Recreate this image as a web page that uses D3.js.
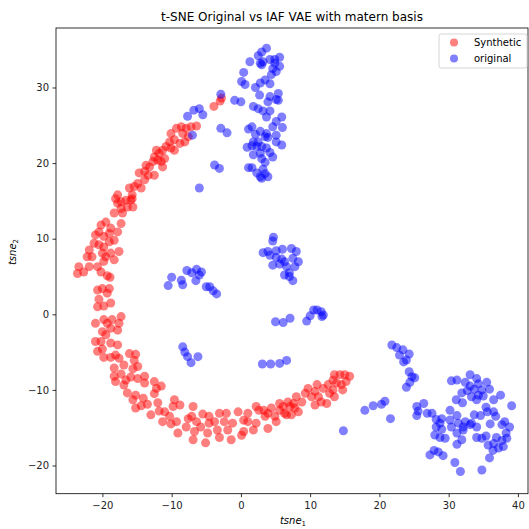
<!DOCTYPE html>
<meta charset="utf-8">
<title>t-SNE Original vs IAF VAE with matern basis</title>
<style>
  body { margin: 0; background: white; }
  svg { font-family: 'DejaVu Sans', sans-serif; }
  .tick line { stroke: black; stroke-width: 0.8px; }
  .tick text { fill: #222; }
</style>
<body>
<script src="https://cdn.jsdelivr.net/npm/d3@7"></script>
<script>

// tsne coords
var synthetic = [
  [-2.8,28.6],[-3.0,28.2],[-3.9,27.5],
  [-10.1,23.9],[-9.3,24.6],[-8.6,24.8],[-7.9,24.6],[-7.2,24.8],[-6.4,24.9],[-8.4,23.9],[-7.6,23.5],
  [-9.6,23.1],[-8.8,22.6],[-8.1,22.8],[-10.3,22.8],[-10.8,22.2],[-10.1,22.0],[-9.6,21.7],[-11.3,21.7],
  [-11.8,21.3],[-12.2,21.7],[-12.5,20.8],[-12.0,20.4],[-11.0,20.6],[-11.5,20.2],[-11.3,19.5],[-12.7,20.2],
  [-13.2,19.5],[-13.7,19.7],[-13.9,18.9],[-14.7,18.7],[-13.4,18.4],[-12.5,18.4],[-13.9,17.8],[-14.9,17.3],
  [-15.4,16.9],[-16.1,16.7],[-14.4,16.7],[-15.7,15.8],[-15.9,15.1],[-15.7,15.3],[-16.6,15.1],[-17.3,14.9],
  [-17.8,15.8],[-18.1,15.3],[-17.8,14.7],[-17.3,14.0],[-18.3,13.4],[-17.1,13.4],[-16.4,14.2],[-15.6,14.2],
  [-17.3,12.0],[-18.8,11.4],[-19.5,12.2],[-20.2,11.8],[-20.5,10.9],[-21.0,10.5],[-19.8,10.3],[-19.0,10.7],
  [-17.8,10.9],[-18.3,9.8],[-19.0,9.6],[-19.8,8.9],[-20.5,9.2],[-21.2,9.4],[-21.9,8.5],[-21.5,7.6],
  [-22.2,7.6],[-20.0,8.1],[-19.5,7.6],[-18.8,8.1],[-17.6,8.3],[-18.3,7.2],[-19.8,7.0],[-20.7,6.3],
  [-21.9,6.3],[-23.4,6.3],[-23.6,5.4],[-22.7,5.6],[-20.2,5.6],[-19.3,5.1],[-18.9,4.9],
  [-20.7,3.2],[-20.0,3.4],[-19.0,3.4],[-19.3,2.8],[-20.5,2.0],[-20.7,1.0],[-19.8,1.1],[-18.8,1.5],
  [-21.0,-1.2],[-19.8,-0.7],[-19.3,-1.2],[-18.6,-0.7],[-17.3,-0.3],[-17.6,-1.2],[-18.8,-1.85],[-17.8,-2.1],
  [-20.0,-2.3],[-19.5,-2.7],[-21.0,-3.6],[-20.2,-3.6],[-18.8,-3.8],[-17.8,-4.05],[-20.7,-4.9],[-20.0,-4.6],
  [-19.8,-5.7],[-18.8,-5.7],[-18.1,-5.4],[-17.6,-5.8],[-16.1,-5.2],[-15.2,-5.3],[-15.4,-6.1],[-14.9,-6.9],
  [-15.6,-7.2],[-16.9,-6.7],[-18.3,-7.1],[-18.3,-8.2],[-17.3,-7.9],[-18.1,-8.9],[-16.6,-8.7],[-16.9,-9.35],
  [-15.9,-8.3],[-14.9,-8.5],[-13.9,-8.2],[-13.9,-9.1],[-16.4,-10.4],[-15.2,-10.7],[-14.1,-11.1],[-15.6,-11.3],
  [-15.2,-12.4],[-14.4,-12.1],[-13.5,-11.9],[-12.5,-8.9],[-11.5,-9.5],[-12.2,-9.8],[-12.5,-10.5],[-12.0,-11.7],
  [-13.0,-13.3],[-11.8,-12.8],[-11.0,-12.9],[-11.3,-14.2],[-10.3,-13.5],[-9.6,-11.3],[-9.8,-12.2],[-8.8,-12.0],
  [-10.1,-14.5],[-9.1,-15.7],[-9.3,-14.2],[-7.6,-13.8],[-7.9,-14.9],[-6.9,-12.2],[-7.1,-13.5],[-6.4,-14.2],
  [-6.7,-15.5],[-6.9,-16.6],[-5.5,-13.2],[-5.8,-14.9],[-4.8,-15.7],[-5.1,-17.0],[-4.6,-14.4],[-4.6,-13.5],
  [-3.8,-14.2],[-3.1,-13.1],[-3.4,-15.3],[-2.1,-13.1],[-2.4,-14.2],[-1.9,-15.3],[-3.1,-16.3],[-1.4,-16.6],
  [-1.2,-14.4],
  [-0.4,-12.9],[1.0,-13.1],[0.4,-14.0],[1.0,-14.2],[2.2,-14.4],[1.8,-15.3],[0.4,-15.5],[0.1,-16.0],
  [2.2,-12.2],[2.6,-12.7],[3.3,-12.7],[3.9,-13.1],[3.5,-13.5],[3.9,-15.1],[4.4,-12.4],[4.9,-13.5],
  [5.1,-14.2],[5.6,-11.8],[5.6,-12.7],[6.1,-12.2],[6.3,-13.1],[6.6,-13.3],[7.3,-13.3],[6.8,-11.6],
  [7.1,-12.2],[7.6,-11.8],[7.8,-12.4],[8.3,-12.9],[8.0,-10.9],[8.8,-11.6],[9.3,-10.45],[9.7,-9.8],
  [10.2,-10.9],[10.7,-12.0],[11.0,-9.3],[10.7,-10.2],[11.2,-10.9],[11.6,-11.6],[11.9,-9.8],[12.4,-11.8],
  [12.6,-9.3],[12.8,-10.45],[13.3,-10.0],[13.5,-10.9],[13.3,-8.7],[13.8,-9.1],[14.3,-8.0],[15.0,-8.0],
  [15.7,-8.2],[15.2,-8.9],[14.5,-9.3],[14.7,-10.0],[13.5,-8.0]
];

var original = [
  // top cluster
  [3.7,35.2],[3.0,34.7],[2.5,34.2],[3.2,33.4],[2.8,33.2],[4.2,33.7],[4.9,33.7],[5.6,34.0],
  [4.9,33.2],[5.6,32.8],[4.6,32.5],[3.0,33.0],[1.3,33.4],[5.1,32.1],[4.4,31.7],[0.4,32.0],
  [0.1,30.8],[0.6,30.4],[2.1,30.0],[2.8,30.6],[3.5,31.0],[4.2,30.5],[2.7,29.0],[5.4,29.2],
  [4.2,28.8],[5.1,28.4],[3.9,28.1],[5.4,28.3],[-0.9,28.3],[0.0,28.1],[-2.9,29.1],[1.8,27.5],
  [2.5,27.2],[3.2,26.9],[4.2,26.9],[3.7,26.1],[5.1,25.5],[5.9,26.1],[4.6,24.8],[6.0,24.7],
  [1.1,24.5],[1.6,24.8],[2.1,23.8],[2.8,24.2],[3.7,23.9],[3.5,23.5],[3.9,23.4],[5.1,23.7],
  [5.1,22.8],[5.9,22.4],[1.8,22.8],[0.9,22.1],[1.6,22.3],[2.3,22.2],[2.5,22.8],[3.0,22.2],
  [3.7,22.0],[2.8,21.3],[4.2,21.4],[4.6,20.8],[1.8,21.1],[3.0,20.6],[1.1,19.4],[1.6,19.4],
  [2.3,18.7],[3.2,19.2],[3.5,20.1],[2.8,18.2],[3.5,18.6],[3.9,18.2],[3.0,18.0],
  [-2.9,24.6],[-2.0,24.0],[-3.8,19.75],[-3.1,19.3],
  [-7.7,26.2],[-6.8,27.0],[-6.0,27.2],[-5.5,26.4],[-7.0,23.7],[-6.0,16.7],
  // left middle
  [-10.0,4.9],[-10.5,3.8],[-8.6,4.5],[-8.4,3.9],[-7.8,5.8],[-7.1,5.5],[-6.4,5.95],[-5.7,5.6],
  [-6.0,5.2],[-6.5,4.45],[-5.0,3.65],[-4.5,3.65],[-3.5,2.7],[-4.0,3.1],
  // centre
  [4.7,10.2],[4.6,9.7],[3.2,8.15],[3.9,8.3],[4.2,7.8],[5.1,8.4],[6.0,8.6],[7.3,8.7],
  [8.0,8.3],[5.1,7.5],[5.9,7.3],[6.3,6.95],[7.5,7.4],[8.3,6.95],[4.6,6.5],[5.6,6.65],
  [6.6,6.3],[7.8,6.3],[7.0,5.5],[6.3,5.2],[7.5,4.45],[7.0,5.0],
  [5.0,-0.98],[6.1,-1.1],[7.1,-0.53],[9.5,-0.9],[10.0,-0.2],[10.5,0.57],[11.0,0.57],[11.6,0.35],
  [11.9,-0.1],[11.7,-0.3],
  [-8.4,-4.3],[-8.1,-5.0],[-7.7,-5.6],[-7.2,-6.4],[-6.2,-5.6],
  [3.1,-6.57],[4.3,-6.57],[5.6,-6.5],[6.6,-6.1],
  // right side
  [14.8,-15.4],[17.9,-12.7],[19.1,-12.1],[20.3,-11.9],[20.8,-11.5],[21.6,-13.8],
  [21.8,-4.06],[22.5,-4.4],[23.4,-4.7],[24.3,-5.25],[22.9,-5.4],[23.5,-6.3],[23.9,-6.05],[24.3,-7.6],
  [24.7,-8.25],[25.1,-8.4],[24.4,-9.0],[23.9,-9.65],
  [30.4,-8.8],[31.2,-8.7],[32.4,-9.0],[33.1,-8.0],[34.05,-8.5],[34.3,-9.2],[35.5,-9.0],[33.1,-9.5],
  [33.7,-9.9],[32.7,-10.1],[31.9,-10.4],[34.8,-10.0],[35.9,-9.9],[34.3,-10.7],[35.0,-10.8],[33.3,-10.9],
  [34.05,-11.3],[31.1,-11.3],[32.0,-11.7],[37.5,-10.7],[36.5,-11.3],[39.1,-12.1],[25.4,-12.2],[26.4,-11.8],
  [25.6,-12.8],[25.4,-13.4],[26.9,-13.1],[27.6,-13.1],[28.2,-13.9],[29.0,-13.8],[28.75,-14.4],[28.2,-14.9],
  [29.0,-15.2],[28.0,-15.97],[28.75,-16.3],[29.5,-16.4],[30.2,-12.7],[30.2,-13.98],[31.2,-13.4],[31.4,-14.4],
  [30.4,-14.9],[31.2,-15.7],[32.1,-15.3],[32.4,-14.2],[32.1,-14.9],[33.1,-14.6],[33.3,-14.4],[34.05,-14.9],
  [33.7,-13.3],[34.6,-13.4],[35.4,-12.3],[35.6,-12.9],[36.5,-12.9],[36.8,-13.5],[36.0,-14.5],[34.05,-16.3],
  [34.8,-16.4],[35.4,-16.1],[36.9,-16.3],[37.7,-14.6],[38.1,-14.2],[38.8,-14.9],[38.3,-15.7],[38.4,-16.4],
  [37.7,-16.7],[37.9,-17.5],[36.5,-17.1],[37.2,-17.7],[36.4,-18.0],[35.7,-17.3],[35.9,-19.0],[31.2,-17.2],
  [31.9,-16.6],[27.9,-18.0],[28.5,-18.2],[27.3,-18.6],[29.2,-18.7],[30.9,-19.6],[31.7,-20.8],[34.8,-20.6]
];

var seriesNames = ["Synthetic", "original"];
var seriesColors = ["red", "blue"];
var xTicks = [-20, -10, 0, 10, 20, 30, 40];
var yTicks = [-20, -10, 0, 10, 20, 30];

var margin = {top: 28, left: 56},
    width = 472,
    height = 465.7;

var svg = d3.select("body").append("svg")
    .attr("width", 529)
    .attr("height", 529);

var g = svg.append("g")
    .attr("transform", "translate(" + margin.left + "," + margin.top + ")");

var x = d3.scaleLinear().domain([-26.7, 41.46]).range([0, width]);
var y = d3.scaleLinear().domain([-23.73, 37.87]).range([height, 0]);

// axes
var xAxis = g.append("g")
    .attr("transform", "translate(0," + height + ")")
    .call(d3.axisBottom(x).tickValues(xTicks).tickSize(3.5).tickPadding(5));
var yAxis = g.append("g")
    .call(d3.axisLeft(y).tickValues(yTicks).tickSize(3.5).tickPadding(3.5));
[xAxis, yAxis].forEach(function(a) {
  a.attr("font-family", "DejaVu Sans").attr("font-size", 10);
  a.select(".domain").remove();
});

// points
var series = [synthetic, original];
series.forEach(function(pts, i) {
  g.append("g").selectAll("circle")
    .data(pts)
    .enter().append("circle")
      .attr("cx", function(d) { return x(d[0]); })
      .attr("cy", function(d) { return y(d[1]); })
      .attr("r", 4.5)
      .attr("fill", seriesColors[i])
      .attr("fill-opacity", 0.5);
});

// frame
g.append("rect")
    .attr("width", width)
    .attr("height", height)
    .attr("fill", "none")
    .attr("stroke", "black")
    .attr("stroke-width", 0.8);

// title
svg.append("text")
    .attr("x", margin.left + width / 2)
    .attr("y", 21)
    .attr("text-anchor", "middle")
    .attr("font-size", 12)
    .text("t-SNE Original vs IAF VAE with matern basis");

// axis labels
var xl = svg.append("text")
    .attr("x", 293)
    .attr("y", 524)
    .attr("text-anchor", "middle")
    .attr("font-size", 10);
xl.append("tspan").attr("font-style", "italic").text("tsne");
xl.append("tspan").attr("font-size", 7).attr("dy", 2).text("1");

var yl = svg.append("text")
    .attr("transform", "translate(16,252) rotate(-90)")
    .attr("text-anchor", "middle")
    .attr("font-size", 10);
yl.append("tspan").attr("font-style", "italic").text("tsne");
yl.append("tspan").attr("font-size", 7).attr("dy", 2).text("2");

// legend
var legend = svg.append("g").attr("transform", "translate(439,34)");
legend.append("rect")
    .attr("width", 88)
    .attr("height", 34)
    .attr("rx", 2)
    .attr("fill", "white")
    .attr("fill-opacity", 0.8)
    .attr("stroke", "#cccccc")
    .attr("stroke-width", 0.8);
seriesNames.forEach(function(name, i) {
  legend.append("circle")
    .attr("cx", 15)
    .attr("cy", 8.5 + i * 16)
    .attr("r", 4)
    .attr("fill", seriesColors[i])
    .attr("fill-opacity", 0.5);
  legend.append("text")
    .attr("x", 35)
    .attr("y", 12 + i * 16)
    .attr("font-size", 10)
    .text(name);
});

</script>
</body>
